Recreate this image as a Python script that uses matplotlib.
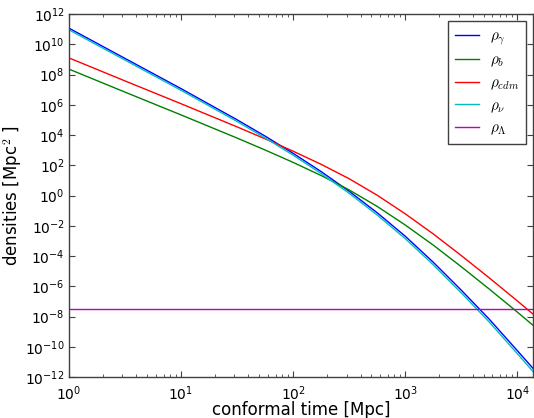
import numpy as np
import matplotlib
matplotlib.use('Agg')
import matplotlib.pyplot as plt
from matplotlib.ticker import FixedLocator, LogLocator, LogFormatterSciNotation, NullFormatter, NullLocator

# conformal time [Mpc]
tau = [1.0, 3.16, 10.0, 31.6, 56.2, 100.0, 178.0, 316.0, 562.0,
       1000.0, 1778.0, 3162.0, 5623.0, 10000.0, 13800.0]

# log10 of densities
log_rho_gamma = [11.08, 9.08, 7.08, 5.02, 3.94, 2.80, 1.59, 0.29, -1.13,
                 -2.68, -4.40, -6.25, -8.17, -10.25, -11.42]
log_rho_b = [8.37, 6.85, 5.34, 3.81, 3.02, 2.20, 1.33, 0.38, -0.71,
             -1.94, -3.27, -4.70, -6.18, -7.70, -8.57]
log_rho_cdm = [9.11, 7.59, 6.08, 4.55, 3.76, 2.94, 2.07, 1.12, 0.03,
               -1.20, -2.53, -3.96, -5.44, -6.96, -7.83]
log_rho_nu = [10.97, 8.97, 6.97, 4.91, 3.82, 2.68, 1.46, 0.16, -1.28,
              -2.84, -4.57, -6.43, -8.36, -10.45, -11.63]
log_rho_lambda = [-7.5] * len(tau)

series = [
    (log_rho_gamma, r'$\rho_\gamma$', 'b'),
    (log_rho_b, r'$\rho_b$', 'g'),
    (log_rho_cdm, r'$\rho_{cdm}$', 'r'),
    (log_rho_nu, r'$\rho_\nu$', 'c'),
    (log_rho_lambda, r'$\rho_\Lambda$', 'm'),
]

plt.rcParams['mathtext.fontset'] = 'cm'
plt.rcParams['axes.unicode_minus'] = False

fig = plt.figure(figsize=(5.34, 4.18), dpi=100)
ax = fig.add_axes([0.129, 0.098, 0.869, 0.868])

for vals, lab, col in series:
    ax.plot(tau, 10.0 ** np.array(vals), color=col, lw=1.0, label=lab)

ax.set_xscale('log')
ax.set_yscale('log')
ax.set_xlim(1, 1.38e4)
ax.set_ylim(1e-12, 1e12)

ax.yaxis.set_major_locator(FixedLocator(10.0 ** np.arange(-12, 13, 2)))
ax.yaxis.set_major_formatter(LogFormatterSciNotation(base=10.0))
ax.yaxis.set_minor_locator(NullLocator())
ax.xaxis.set_minor_locator(LogLocator(base=10.0, subs=np.arange(2, 10), numticks=30))
ax.xaxis.set_minor_formatter(NullFormatter())

ax.tick_params(which='both', direction='in', top=True, right=True,
               color='#404040', labelsize=10)
ax.tick_params(which='major', length=4, width=0.8, pad=3)
ax.tick_params(axis='x', which='major', pad=5)
ax.tick_params(which='minor', length=2, width=0.6)
for s in ax.spines.values():
    s.set_color('#404040')
    s.set_linewidth(1.0)

ax.set_xlabel('conformal time [Mpc]', fontsize=12, labelpad=-1)
ax.set_ylabel('densities [Mpc$^2$ ]', fontsize=12)
ax.yaxis.set_label_coords(-0.097, 0.5)

leg = ax.legend(loc='upper right', fontsize=11, fancybox=False,
                edgecolor='#404040', framealpha=1.0, handlelength=1.6,
                handletextpad=0.7, borderpad=0.45, labelspacing=0.38,
                borderaxespad=0.45)
leg.get_frame().set_linewidth(1.0)

fig.savefig('out.png', dpi=100)
